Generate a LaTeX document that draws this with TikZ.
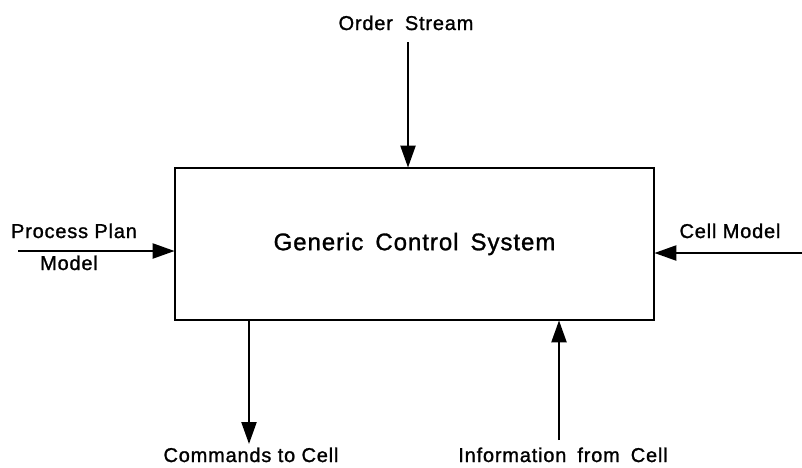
\documentclass[tikz,border=0pt]{standalone}
\usepackage{fontspec}
\setmainfont{Liberation Sans}[LetterSpace=4.0,FakeBold=1.2]
\usetikzlibrary{arrows.meta}
\begin{document}
\begin{tikzpicture}[x=1pt,y=-1pt,
  flow/.style={line width=2.3pt,shorten >=-1pt,-{Triangle[length=22pt,width=15pt]}},
  lbl/.style={font=\fontsize{20}{22}\selectfont,inner sep=0pt,anchor=base},
  sysbox/.style={draw,line width=2.8pt,minimum width=479pt,minimum height=152pt,
    inner sep=0pt,font=\fontsize{24}{27}\selectfont}]
  \useasboundingbox (0,0) rectangle (802,467);

  % central block
  \node[sysbox] (sys) at (414.5,244) {Generic\hspace{0.5em}Control\hspace{0.5em}System};

  % free ends of the connectors
  \coordinate (os) at (408,42);
  \coordinate (pp) at (18,251);
  \coordinate (cm) at (802,253);
  \coordinate (cc) at (249,443);
  \coordinate (ic) at (559,440);

  % labels
  \node[lbl] (osl) at (406,30) {Order\hspace{0.6em}Stream};
  \node[lbl] (ppl) at (74,238) {Process Plan};
  \node[lbl] (ppm) at (69,270) {Model};
  \node[lbl] (cml) at (730,238) {Cell Model};
  \node[lbl] (ccl) at (251,462) {Commands to Cell};
  \node[lbl] (icl) at (563,462) {Information\hspace{0.55em}from\hspace{0.55em}Cell};

  % connectors
  \draw[flow] (os) -- (os |- sys.north);
  \draw[flow] (pp) -- (pp -| sys.west);
  \draw[flow] (cm) -- (cm -| sys.east);
  \draw[flow] (cc |- sys.south) -- (cc);
  \draw[flow] (ic) -- (ic |- sys.south);
\end{tikzpicture}
\end{document}
